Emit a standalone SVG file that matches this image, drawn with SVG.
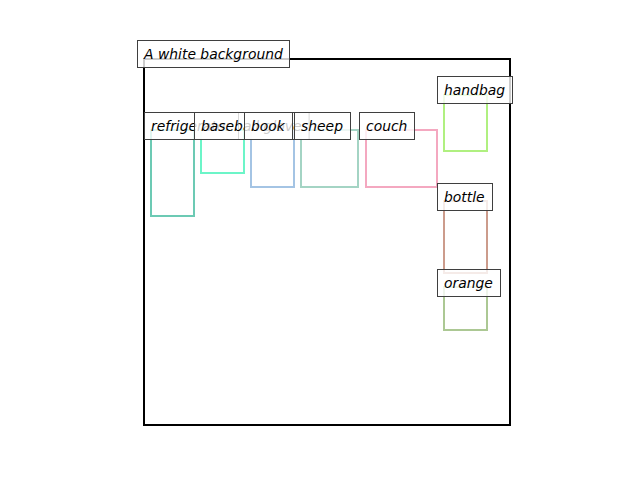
<svg xmlns="http://www.w3.org/2000/svg" width="640" height="480" viewBox="0 0 640 480">
<style>
.box{fill:none;stroke-width:2}
.lb rect{fill:#ffffff;fill-opacity:0.8;stroke:#3f3f3f;stroke-width:1}
.lb text{font-family:"DejaVu Sans",sans-serif;font-style:italic;font-size:13.9px;fill:#000}
</style>
<rect width="640" height="480" fill="#ffffff"/>
<g id="frame"><rect x="144" y="59" width="366" height="366" fill="none" stroke="#000" stroke-width="2"/></g>
<g id="boxes">
<rect id="refrigerator" class="box" x="151" y="130" width="43" height="86" stroke="#6ccab4"/>
<rect id="baseball-glove" class="box" x="201" y="130" width="43" height="43" stroke="#6cf5c8"/>
<rect id="book" class="box" x="251" y="130" width="43" height="57" stroke="#a4c4e4"/>
<rect id="sheep" class="box" x="301" y="130" width="57" height="57" stroke="#a4d4c4"/>
<rect id="couch" class="box" x="366" y="130" width="71" height="57" stroke="#f4a8c0"/>
<rect id="handbag" class="box" x="444" y="95" width="43" height="56" stroke="#b0f080"/>
<rect id="bottle" class="box" x="444" y="201" width="43" height="72" stroke="#cc9c8c"/>
<rect id="orange" class="box" x="444" y="287" width="43" height="43" stroke="#acc894"/>
</g>
<g id="label-title" class="lb"><rect x="137.5" y="40.5" width="152" height="27"/><text x="144" y="58.5">A white background</text></g>
<g id="label-refrigerator" class="lb"><rect x="144.5" y="112.5" width="94" height="27"/><text x="151" y="130.5">refrigerator</text></g>
<g id="label-baseball-glove" class="lb"><rect x="194.5" y="112.5" width="114.6" height="27"/><text x="201" y="130.5">baseball glove</text></g>
<g id="label-book" class="lb"><rect x="244.5" y="112.5" width="48" height="27"/><text x="251" y="130.5">book</text></g>
<g id="label-sheep" class="lb"><rect x="294.5" y="112.5" width="56" height="27"/><text x="301" y="130.5">sheep</text></g>
<g id="label-couch" class="lb"><rect x="359.5" y="112.5" width="55" height="27"/><text x="366" y="130.5">couch</text></g>
<g id="label-handbag" class="lb"><rect x="437.5" y="76.5" width="75" height="27"/><text x="444" y="94.5">handbag</text></g>
<g id="label-bottle" class="lb"><rect x="437.5" y="183.5" width="55" height="27"/><text x="444" y="201.5">bottle</text></g>
<g id="label-orange" class="lb"><rect x="437.5" y="269.5" width="63" height="27"/><text x="444" y="287.5">orange</text></g>
</svg>
